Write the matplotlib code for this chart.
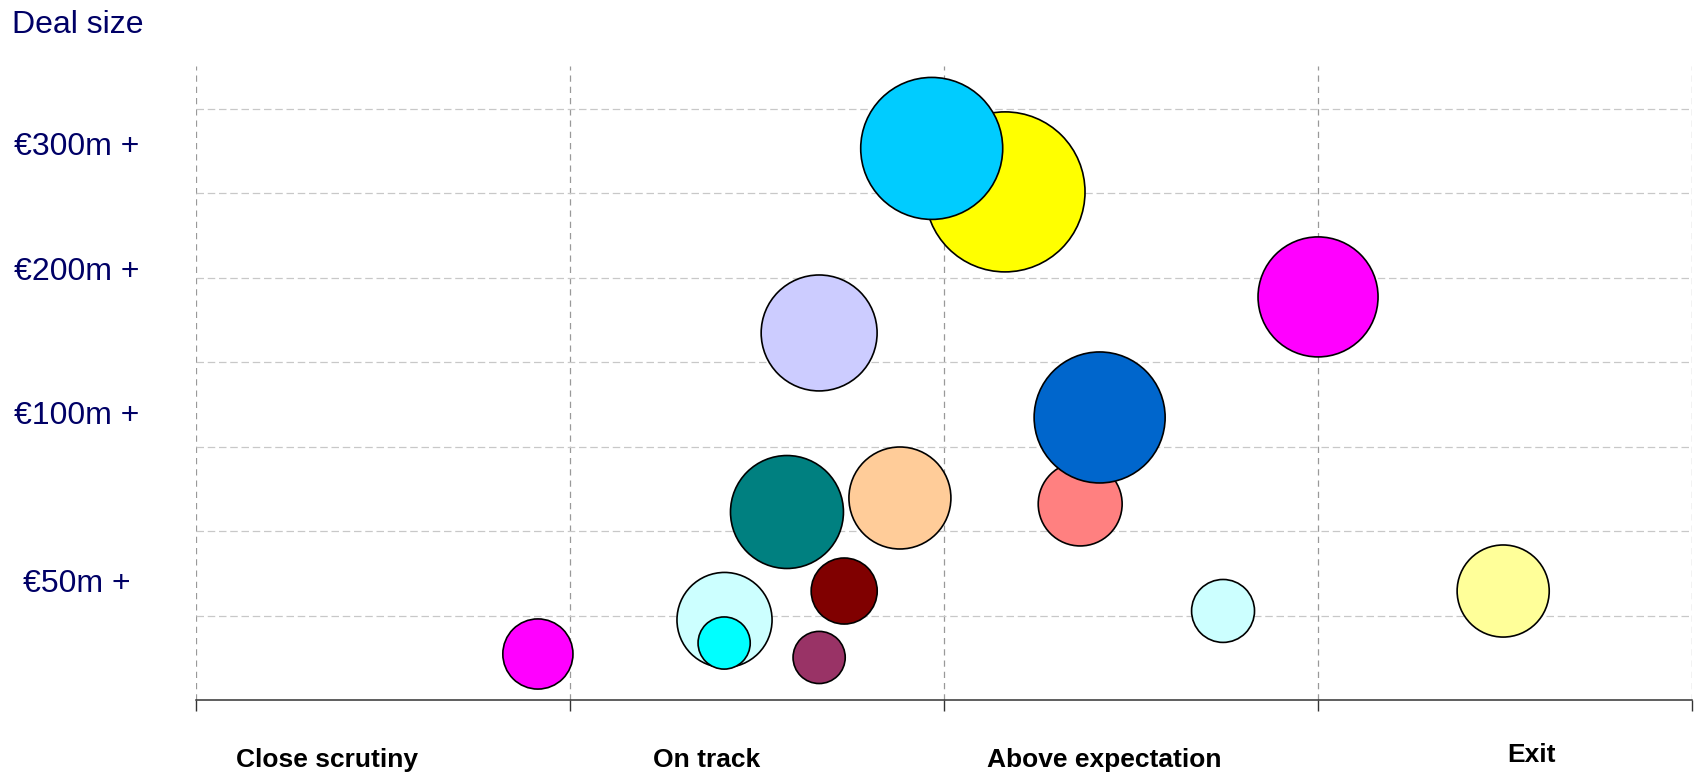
import matplotlib.pyplot as plt
import numpy as np

# 业绩分类 (x 轴)
categories = ["Close scrutiny", "On track", "Above expectation", "Exit"]
# 交易规模标签 (y 轴)
size_labels = ["€300m +", "€200m +", "€100m +", "€50m +"]
size_label_y = [6.55, 5.07, 3.37, 1.38]

# 每个气泡: 业绩位置, 交易规模位置, 气泡大小, 颜色
perf = [0.914, 1.413, 1.412, 1.666, 1.733, 1.580, 1.882, 1.666,
        2.163, 1.967, 2.364, 2.416, 2.746, 3.000, 3.495]
deal = [0.545, 0.948, 0.675, 0.504, 1.291, 2.227, 2.393, 4.348,
        6.019, 6.534, 2.322, 3.347, 1.055, 4.775, 1.291]
value = [12.3, 22.6, 6.8, 6.8, 10.9, 31.9, 26.0, 33.6,
         64.0, 50.4, 17.6, 42.9, 9.9, 36.0, 21.2]
colors = ["#FF00FF", "#CCFFFF", "#00FFFF", "#993366", "#800000",
          "#008080", "#FFCC99", "#CCCCFF", "#FFFF00", "#00CCFF",
          "#FF8080", "#0066CC", "#CCFFFF", "#FF00FF", "#FFFF99"]

plt.rcParams['font.family'] = ['Liberation Sans', 'DejaVu Sans']

fig = plt.figure(figsize=(16.99, 7.74), dpi=100)
ax = fig.add_axes([0.1154, 0.0956, 0.8805, 0.8191])

# 气泡
ax.scatter(perf, deal, s=np.array(value) * 207.4, c=colors,
           edgecolors="black", linewidths=1.2, zorder=3)

ax.set_xlim(0, 4)
ax.set_ylim(0, 7.51)

# 去掉边框, 只保留底边
for side in ['left', 'right', 'top']:
    ax.spines[side].set_visible(False)
ax.spines['bottom'].set_color('#333333')
ax.spines['bottom'].set_linewidth(1.1)

ax.set_xticks(range(5))
ax.set_xticklabels([])
ax.tick_params(axis='x', direction='out', length=8, width=1, color='#333333')
ax.set_yticks(range(1, 8))
ax.set_yticklabels([])
ax.tick_params(axis='y', length=0)

# 虚线网格
ax.xaxis.grid(True, color='#999999', linestyle=(0, (5, 4)), linewidth=0.9)
ax.yaxis.grid(True, color='#c8c8c8', linestyle=(0, (6, 3)), linewidth=0.9)
ax.set_axisbelow(True)

# 标签
tr = ax.get_yaxis_transform()
for lab, yy in zip(size_labels, size_label_y):
    ax.text(-0.0795, yy, lab, transform=tr, ha='center', va='center',
            fontsize=23, color='#000066')
fig.text(12 / 1699, 1 - 25 / 774, "Deal size", ha='left', va='center',
         fontsize=23, color='#000066')

cat_x = [0.350, 1.364, 2.429, 3.572]
cat_y = [-0.794, -0.794, -0.794, -0.735]
for lab, xx, yy in zip(categories, cat_x, cat_y):
    ax.text(xx, yy, lab, ha='center', va='baseline', fontsize=19,
            fontweight='bold', color='black', clip_on=False)

plt.savefig("out.png", dpi=100)
